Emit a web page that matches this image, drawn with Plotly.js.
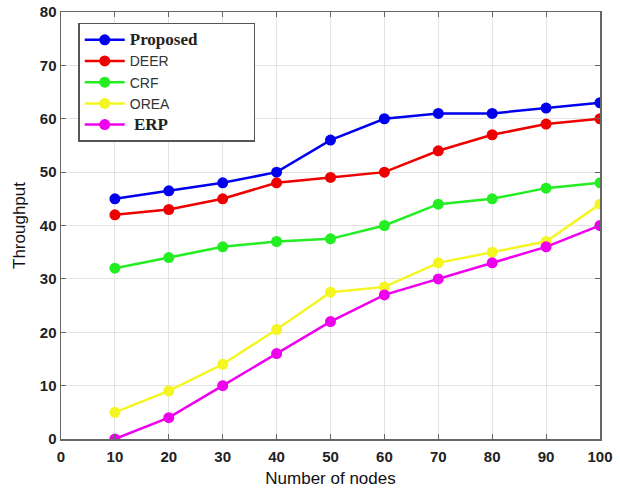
<!DOCTYPE html>
<html>
<head>
<meta charset="utf-8">
<script src="https://cdn.plot.ly/plotly-3.0.1.min.js"></script>
<style>html,body{margin:0;padding:0;background:#fff;}#chart{width:620px;height:492px;}</style>
</head>
<body>
<div id="chart"></div>
<script>
// Throughput versus number of nodes for five schemes
const nodes = [10, 20, 30, 40, 50, 60, 70, 80, 90, 100];
const proposed = [45, 46.5, 48, 50, 56, 60, 61, 61, 62, 63];
const deer = [42, 43, 45, 48, 49, 50, 54, 57, 59, 60];
const crf = [32, 34, 36, 37, 37.5, 40, 44, 45, 47, 48];
const orea = [5, 9, 14, 20.5, 27.5, 28.5, 33, 35, 37, 44];
const erp = [0, 4, 10, 16, 22, 27, 30, 33, 36, 40];
const xTicks = [0, 10, 20, 30, 40, 50, 60, 70, 80, 90, 100];
const yTicks = [0, 10, 20, 30, 40, 50, 60, 70, 80];

const serif = '<span style="font-family:Liberation Serif,Times New Roman,serif;font-weight:bold;font-size:17px;fill:#222">';
const pad = '\u00a0'.repeat(13);
const series = [
  {name: serif + 'Proposed</span>' + pad, y: proposed, color: '#0000ee'},
  {name: 'DEER', y: deer, color: '#ee0000'},
  {name: 'CRF', y: crf, color: '#22ee22'},
  {name: 'OREA', y: orea, color: '#f5f522'},
  {name: serif + '\u00a0ERP</span>', y: erp, color: '#ee00ee'}
];

const traces = series.map(s => ({
  x: nodes,
  y: s.y,
  name: s.name,
  type: 'scatter',
  mode: 'lines+markers',
  line: {color: s.color, width: 2.5},
  marker: {color: s.color, size: 11}
}));

const sans = 'Liberation Sans, Arial, sans-serif';
const axisCommon = {
  showgrid: true,
  gridcolor: '#e3e3e3',
  gridwidth: 1,
  showline: true,
  linecolor: '#666',
  linewidth: 1.5,
  mirror: 'ticks',
  ticks: 'inside',
  ticklen: 5,
  tickcolor: '#666',
  zeroline: false,
  tickfont: {family: sans, size: 15, color: '#222', weight: 'bold'}
};

const layout = {
  width: 620,
  height: 492,
  margin: {l: 61, r: 20, t: 12, b: 53},
  paper_bgcolor: '#fff',
  plot_bgcolor: '#fff',
  showlegend: true,
  legend: {
    x: 0.032, y: 0.975, xanchor: 'left', yanchor: 'top',
    bgcolor: '#fff', bordercolor: '#555', borderwidth: 1.5,
    font: {family: sans, size: 14, color: '#333'},
    tracegroupgap: 0,
    itemwidth: 40
  },
  xaxis: Object.assign({}, axisCommon, {
    range: [0, 100],
    tickvals: xTicks,
    ticktext: xTicks.map(String),
    ticklabelstandoff: 3,
    title: {text: 'Number of nodes', font: {family: sans, size: 17, color: '#111'}, standoff: 8}
  }),
  yaxis: Object.assign({}, axisCommon, {
    range: [0, 80],
    tickvals: yTicks,
    ticktext: yTicks.map(String),
    title: {text: 'Throughput', font: {family: sans, size: 17, color: '#111'}, standoff: 10}
  })
};

Plotly.newPlot('chart', traces, layout, {displayModeBar: false, staticPlot: true});
</script>
</body>
</html>
